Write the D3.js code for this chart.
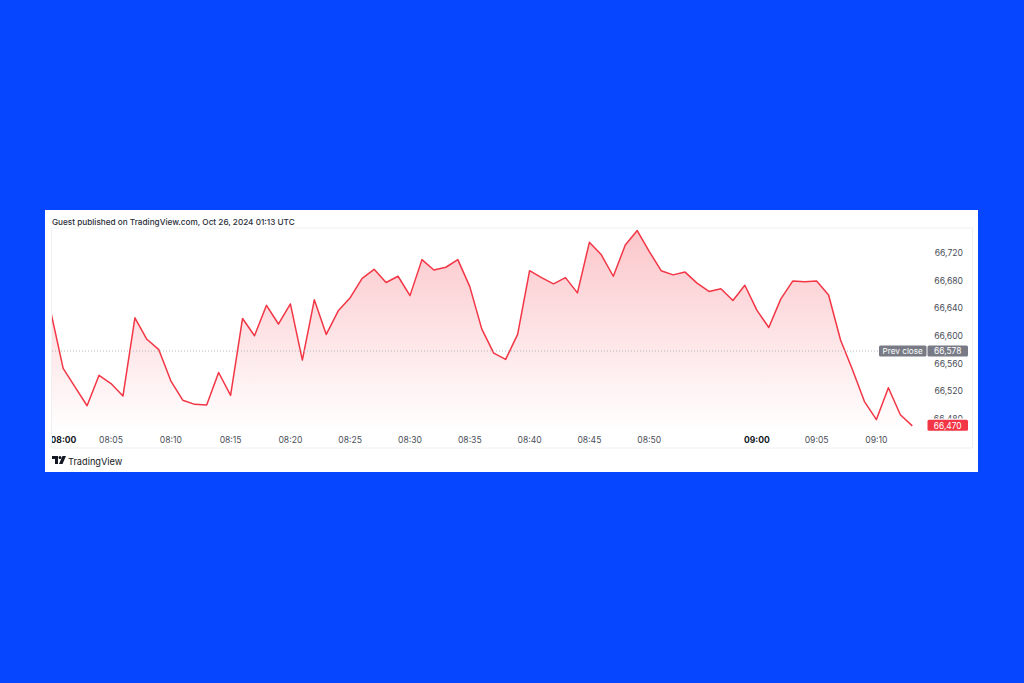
<!DOCTYPE html>
<html>
<head>
<meta charset="utf-8">
<script src="https://cdn.jsdelivr.net/npm/d3@7"></script>
<style>
  html, body { margin: 0; padding: 0; background: #0646fe; }
  svg { display: block; }
  text { font-family: Inter, "Noto Sans", sans-serif; }
</style>
</head>
<body>
<svg id="chart" width="1024" height="683"></svg>
<script>
// ---- data ----
const times = [
  "08:00","08:01","08:02","08:03","08:04","08:05","08:06","08:07","08:08","08:09",
  "08:10","08:11","08:12","08:13","08:14","08:15","08:16","08:17","08:18","08:19",
  "08:20","08:21","08:22","08:23","08:24","08:25","08:26","08:27","08:28","08:29",
  "08:30","08:31","08:32","08:33","08:34","08:35","08:36","08:37","08:38","08:39",
  "08:40","08:41","08:42","08:43","08:44","08:45","08:46","08:47","08:48","08:49",
  "08:50","08:51","08:52","08:53","08:54","08:56","08:57","08:58","08:59",
  "09:00","09:01","09:02","09:03","09:04","09:05","09:06","09:07","09:08","09:09",
  "09:10","09:11","09:12","09:13"
];
const prices = [
  66632,66553,66526,66499,66543,66531,66513,66626,66595,66580,
  66535,66507,66501,66500,66547,66514,66625,66600,66644,66617,
  66646,66565,66652,66602,66636,66655,66683,66696,66677,66686,
  66658,66710,66695,66699,66710,66671,66610,66575,66566,66602,
  66694,66684,66675,66684,66662,66735,66717,66686,66731,66752,
  66722,66694,66688,66692,66676,66664,66668,66651,66673,
  66637,66612,66653,66679,66678,66679,66659,66594,66551,66505,
  66479,66525,66486,66470
];
const timeTicks = ["08:00","08:05","08:10","08:15","08:20","08:25","08:30","08:35","08:40","08:45","08:50","09:00","09:05","09:10"];
const boldTicks = ["08:00","09:00"];
const priceTicks = [66480, 66520, 66560, 66600, 66640, 66680, 66720];
const prevClose = 66578;
const lastPrice = 66470;
const titleText = "Guest published on TradingView.com, Oct 26, 2024 01:13 UTC";

// ---- layout ----
const svg = d3.select("#chart");
const card = {x: 45, y: 210, w: 933, h: 262};
const panel = {x: 51.5, y: 228, w: 921, h: 220};

const x = d3.scalePoint().domain(times).range([51.2, 912.3]);
const y = d3.scaleLinear().domain([66440, 66760]).range([446.6, 225.0]);
const fmt = d3.format(",");

// card
svg.append("rect").attr("x", card.x).attr("y", card.y).attr("width", card.w).attr("height", card.h)
  .attr("fill", "#ffffff");

svg.append("text").attr("x", 52).attr("y", 225)
  .attr("font-size", 8.2).attr("font-weight", 500).attr("fill", "#2a2e39")
  .text(titleText);

// panel border
svg.append("rect").attr("x", panel.x).attr("y", panel.y).attr("width", panel.w).attr("height", panel.h)
  .attr("fill", "none").attr("stroke", "#f0f1f4").attr("stroke-width", 1);

const defs = svg.append("defs");
defs.append("clipPath").attr("id", "plotclip").append("rect")
  .attr("x", 52).attr("y", panel.y + 1).attr("width", 870).attr("height", 204);
const grad = defs.append("linearGradient").attr("id", "areagrad")
  .attr("gradientUnits", "userSpaceOnUse")
  .attr("x1", 0).attr("x2", 0).attr("y1", y(d3.max(prices))).attr("y2", 432);
grad.append("stop").attr("offset", "0%").attr("stop-color", "#f23645").attr("stop-opacity", 0.28);
grad.append("stop").attr("offset", "100%").attr("stop-color", "#f23645").attr("stop-opacity", 0.0);

const plot = svg.append("g").attr("clip-path", "url(#plotclip)");

const data = times.map((t, i) => ({t, v: prices[i]}));

plot.append("path").datum(data)
  .attr("d", d3.area().x(d => x(d.t)).y0(432).y1(d => y(d.v)))
  .attr("fill", "url(#areagrad)");

// prev close dotted line
svg.append("line").attr("x1", 52).attr("x2", 879).attr("y1", y(prevClose)).attr("y2", y(prevClose))
  .attr("stroke", "#b2b5be").attr("stroke-width", 1).attr("stroke-dasharray", "1,2");

plot.append("path").datum(data)
  .attr("d", d3.line().x(d => x(d.t)).y(d => y(d.v)))
  .attr("fill", "none").attr("stroke", "#f23645").attr("stroke-width", 1.5)
  .attr("stroke-linejoin", "round");

// time axis
defs.append("clipPath").attr("id", "tclip").append("rect")
  .attr("x", 52).attr("y", 430).attr("width", 870).attr("height", 16);
const tg = svg.append("g").attr("clip-path", "url(#tclip)");
timeTicks.forEach(t => {
  const first = t === timeTicks[0];
  tg.append("text")
    .attr("x", first ? 50.5 : x(t))
    .attr("y", 442.5)
    .attr("text-anchor", first ? "start" : "middle")
    .attr("font-size", 8.6)
    .attr("font-weight", boldTicks.includes(t) ? 700 : 400)
    .attr("fill", boldTicks.includes(t) ? "#131722" : "#4a4e59")
    .text(t);
});

// price axis (66,480 is partly hidden behind the last-price label, as in the original)
defs.append("clipPath").attr("id", "pclip").append("rect")
  .attr("x", 920).attr("y", 228).attr("width", 55).attr("height", 190.5);
const pg = svg.append("g").attr("clip-path", "url(#pclip)");
priceTicks.forEach(v => {
  pg.append("text").attr("x", 963).attr("y", y(v) + 3.2)
    .attr("text-anchor", "end").attr("font-size", 8.6).attr("fill", "#4a4e59")
    .text(fmt(v));
});

// prev close label
const pcY = y(prevClose);
svg.append("rect").attr("x", 879).attr("y", pcY - 5.5).attr("width", 47.5).attr("height", 11)
  .attr("rx", 1.5).attr("fill", "#787b86");
svg.append("text").attr("x", 902.7).attr("y", pcY + 3).attr("text-anchor", "middle")
  .attr("font-size", 8.2).attr("fill", "#ffffff").text("Prev close");
svg.append("rect").attr("x", 927.5).attr("y", pcY - 5.5).attr("width", 40.5).attr("height", 11)
  .attr("rx", 1.5).attr("fill", "#787b86");
svg.append("text").attr("x", 947.7).attr("y", pcY + 3).attr("text-anchor", "middle")
  .attr("font-size", 8.4).attr("fill", "#ffffff").text(fmt(prevClose));

// last price label
const lpY = y(lastPrice);
svg.append("rect").attr("x", 927.5).attr("y", lpY - 6).attr("width", 40.5).attr("height", 11)
  .attr("rx", 1.5).attr("fill", "#f23645");
svg.append("text").attr("x", 947.7).attr("y", lpY + 2.7).attr("text-anchor", "middle")
  .attr("font-size", 8.4).attr("fill", "#ffffff").text(fmt(lastPrice));

// TradingView logo
const logo = svg.append("g").attr("transform", "translate(52,456)").attr("fill", "#131722");
logo.append("path").attr("d", "M0,0 H6 V8 H3 V3 H0 Z");
logo.append("circle").attr("cx", 8).attr("cy", 1.5).attr("r", 1.5);
logo.append("path").attr("d", "M10.5,0 H14 L10.5,8 H7 Z");
svg.append("text").attr("x", 68).attr("y", 464.5)
  .attr("font-size", 9.2).attr("font-weight", 400).attr("fill", "#131722").text("TradingView");
</script>
</body>
</html>
